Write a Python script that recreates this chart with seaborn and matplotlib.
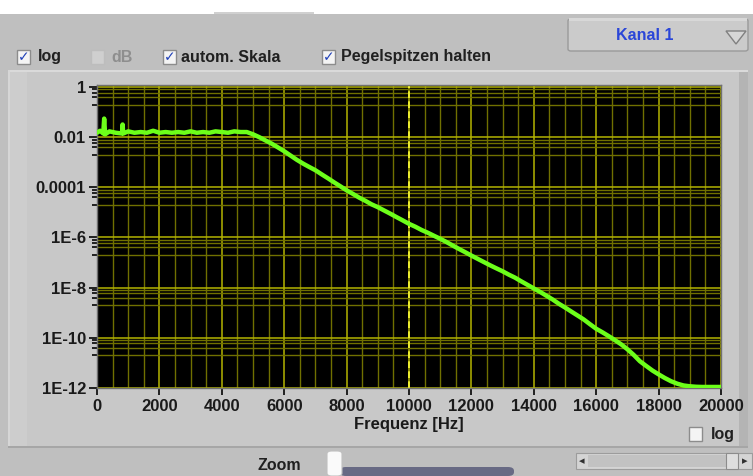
import matplotlib
matplotlib.use("Agg")
import matplotlib.pyplot as plt
import matplotlib.ticker as mticker
from matplotlib.patches import Rectangle, FancyBboxPatch, Polygon
import seaborn as sns
import pandas as pd
from matplotlib import font_manager

# ---------------- data ----------------
freq_hz = [0, 100, 200, 230, 260, 400, 600, 800, 820, 840, 1000, 1200, 1400,
           1600, 1800, 2000, 2200, 2400, 2600, 2800, 3000, 3200, 3400, 3600,
           3800, 4000, 4200, 4400, 4600, 4800,
           5000, 5200, 5400, 5600, 5800, 6000, 6200, 6400, 6600, 6800, 7000,
           7200, 7400, 7600, 7800, 8000, 8200, 8400, 8600, 8800, 9000, 9200,
           9400, 9600, 9800, 10000, 10200, 10400, 10600, 10800, 11000, 11200,
           11400, 11600, 11800, 12000, 12200, 12400, 12600, 12800, 13000,
           13200, 13400, 13600, 13800, 14000, 14200, 14400, 14600, 14800,
           15000, 15200, 15400, 15600, 15800, 16000, 16200, 16400, 16600,
           16800, 17000, 17200, 17400, 17600, 17800, 18000, 18200, 18400,
           18600, 18800, 19000, 19200, 19400, 19600, 19800, 20000]
level = [1.5e-2, 1.8e-2, 1.4e-2, 5.5e-2, 1.3e-2, 1.7e-2, 1.5e-2, 1.4e-2,
         3.2e-2, 1.4e-2, 1.7e-2, 1.5e-2, 1.6e-2, 1.5e-2, 1.8e-2, 1.5e-2,
         1.6e-2, 1.5e-2, 1.6e-2, 1.5e-2, 1.7e-2, 1.5e-2, 1.6e-2, 1.5e-2,
         1.7e-2, 1.6e-2, 1.5e-2, 1.7e-2, 1.6e-2, 1.6e-2,
         1.3e-2, 1.0e-2, 7.4e-3, 5.5e-3, 3.9e-3, 2.75e-3, 1.86e-3, 1.26e-3,
         8.9e-4, 6.5e-4, 4.8e-4, 3.3e-4, 2.3e-4, 1.58e-4, 1.10e-4, 7.6e-5,
         5.5e-5, 3.9e-5, 2.9e-5, 2.1e-5, 1.62e-5, 1.20e-5, 8.9e-6, 6.5e-6,
         4.8e-6, 3.5e-6, 2.7e-6, 2.0e-6, 1.55e-6, 1.17e-6, 8.9e-7, 6.6e-7,
         4.8e-7, 3.5e-7, 2.6e-7, 1.9e-7, 1.41e-7, 1.05e-7, 7.8e-8, 5.9e-8,
         4.5e-8, 3.3e-8, 2.5e-8, 1.78e-8, 1.29e-8, 9.3e-9, 6.8e-9, 4.8e-9,
         3.4e-9, 2.3e-9, 1.62e-9, 1.12e-9, 7.8e-10, 5.4e-10, 3.5e-10,
         2.3e-10, 1.66e-10, 1.17e-10, 8.1e-11, 5.5e-11, 3.5e-11, 2.1e-11,
         1.17e-11, 7.6e-12, 5.0e-12, 3.5e-12, 2.5e-12, 1.86e-12, 1.48e-12,
         1.26e-12, 1.17e-12, 1.12e-12, 1.1e-12, 1.1e-12, 1.1e-12, 1.1e-12]

y_major = [1, 1e-2, 1e-4, 1e-6, 1e-8, 1e-10, 1e-12]
y_labels = ["1", "0.01", "0.0001", "1E-6", "1E-8", "1E-10", "1E-12"]
x_major = [0, 2000, 4000, 6000, 8000, 10000, 12000, 14000, 16000, 18000, 20000]
x_labels = ["0", "2000", "4000", "6000", "8000", "10000", "12000", "14000",
            "16000", "18000", "20000"]
y_minor = [0.8, 0.6, 0.4, 0.2, 8e-3, 6e-3, 4e-3, 2e-3, 8e-5, 6e-5, 4e-5, 2e-5,
           8e-7, 6e-7, 4e-7, 2e-7, 8e-9, 6e-9, 4e-9, 2e-9, 8e-11, 6e-11,
           4e-11, 2e-11]
cursor_x = 10000

# ---------------- styling ----------------
sns.set_theme(style="dark")
names = {f.name for f in font_manager.fontManager.ttflist}
fam = "Liberation Sans" if "Liberation Sans" in names else "DejaVu Sans"
plt.rcParams["font.family"] = [fam, "DejaVu Sans"]
plt.rcParams["font.weight"] = "bold"

W, H = 753, 476
fig = plt.figure(figsize=(W / 100, H / 100), dpi=100)
fig.patch.set_facecolor("#bfbfbf")


def rect(x0, y0, x1, y1, fc, ec="none", lw=0, z=0):
    r = Rectangle((x0 / W, 1 - y1 / H), (x1 - x0) / W, (y1 - y0) / H,
                  transform=fig.transFigure, facecolor=fc, edgecolor=ec,
                  linewidth=lw, zorder=z)
    fig.add_artist(r)


def txt(x, y, s, **kw):
    fig.text(x / W, 1 - y / H, s, **kw)


# top white strip
rect(0, 0, W, 14, "#ffffff")
rect(214, 12, 314, 14, "#d0d0d0")
# graph panel with bevel
rect(8, 70, 748, 448, "#c8c8c8")
rect(8, 70, 748, 72, "#dadada")
rect(8, 70, 10, 448, "#d6d6d6")
rect(739, 72, 748, 448, "#b4b4b4")
rect(8, 446, 748, 448, "#a6a6a6")
rect(10, 72, 27, 446, "#cdcdcd")

# Kanal 1 drop-down
btn = FancyBboxPatch((568 / W, 1 - 51 / H), (180) / W, (32) / H,
                     boxstyle="round,pad=0,rounding_size=0.004",
                     transform=fig.transFigure, facecolor="#cbcbcb",
                     edgecolor="#9a9a9a", linewidth=1, zorder=1)
fig.add_artist(btn)
rect(569, 18, 747, 21, "#d8d8d8", z=2)
txt(645, 35, "Kanal 1", color="#2a46d8", fontsize=11.5, ha="center",
    va="center", fontweight="bold")
tri = Polygon([[726 / W, 1 - 31 / H], [746 / W, 1 - 31 / H],
               [736 / W, 1 - 44 / H]], closed=True, transform=fig.transFigure,
              facecolor="#d6d6d6", edgecolor="#808080", lw=1, zorder=3)
fig.add_artist(tri)


def checkbox(x, y, checked=True, enabled=True):
    rect(x, y - 7, x + 13, y + 7, "#f4f4f4" if enabled else "#cfcfcf",
         ec="#8c8c8c" if enabled else "#bdbdbd", lw=1, z=3)
    if checked:
        txt(x + 6.5, y + 0.5, "\u2713", color="#2040b8", fontsize=10,
            ha="center", va="center", family="DejaVu Sans", zorder=4)


checkbox(17, 57)
txt(38, 57, "log", fontsize=11.5, va="center", color="#202020")
checkbox(91, 57, checked=False, enabled=False)
txt(111, 57, "dB", fontsize=11.5, va="center", color="#8e8e8e")
checkbox(163, 57)
txt(181, 57, "autom. Skala", fontsize=11.5, va="center", color="#202020")
checkbox(322, 57)
txt(341, 57, "Pegelspitzen halten", fontsize=11.5, va="center",
    color="#202020")

# ---------------- plot ----------------
ax = fig.add_axes([97 / W, 1 - 388 / H, (721 - 97) / W, (388 - 85) / H])
ax.set_facecolor("#000000")
df = pd.DataFrame({"Frequenz": freq_hz, "Pegel": level})
ax.set_yscale("log")
ax.set_xlim(0, 20000)
ax.set_ylim(1e-12, 1.2)

ax.xaxis.set_major_locator(mticker.FixedLocator(x_major))
ax.xaxis.set_minor_locator(mticker.MultipleLocator(500))
ax.yaxis.set_major_locator(mticker.FixedLocator(y_major))
ax.yaxis.set_minor_locator(mticker.FixedLocator(y_minor))
ax.set_xticklabels(x_labels)
ax.set_yticklabels(y_labels)
ax.yaxis.set_minor_formatter(mticker.NullFormatter())

ax.grid(True, which="major", color="#b3b300", linewidth=1.1)
ax.grid(True, which="minor", color="#707000", linewidth=1.0)
ax.set_axisbelow(True)
ax.axvline(cursor_x, color="#ffff3a", lw=1.2, ls=(0, (4, 2)), zorder=2)

sns.lineplot(data=df, x="Frequenz", y="Pegel", ax=ax, color="#6cff1a",
             linewidth=3.2, zorder=3)

ax.tick_params(axis="both", which="both", colors="#202020", labelsize=12,
               labelcolor="#1a1a1a", width=1.4)
ax.tick_params(axis="x", which="major", length=5, direction="out", pad=3,
               bottom=True)
ax.tick_params(axis="x", which="minor", length=0)
ax.tick_params(axis="y", which="major", length=6, direction="out", pad=2,
               left=True)
ax.tick_params(axis="y", which="minor", length=3.5, direction="out",
               left=True)
for lab in ax.get_xticklabels() + ax.get_yticklabels():
    lab.set_fontweight("bold")
ax.set_xlabel("Frequenz [Hz]", fontsize=12, fontweight="bold",
              color="#1a1a1a", labelpad=2)
ax.set_ylabel("")
for s in ax.spines.values():
    s.set_color("#707070")
    s.set_linewidth(1)

# bottom-right "log" checkbox
checkbox(689, 434, checked=False)
txt(711, 434, "log", fontsize=11.5, va="center", color="#202020")

# Zoom control
txt(258, 466, "Zoom", fontsize=11.5, va="center", color="#202020")
bar = FancyBboxPatch((340 / W, 0), (174) / W, (9) / H,
                     boxstyle="round,pad=0,rounding_size=0.008",
                     transform=fig.transFigure, facecolor="#686a84",
                     edgecolor="none", zorder=2)
fig.add_artist(bar)
thumb = FancyBboxPatch((327 / W, 0), (15) / W, (25) / H,
                       boxstyle="round,pad=0,rounding_size=0.006",
                       transform=fig.transFigure, facecolor="#fafafa",
                       edgecolor="#c0c0c0", lw=0.8, zorder=3)
fig.add_artist(thumb)

# scrollbar
rect(576, 453, 752, 469, "#d4d4d4", ec="#9c9c9c", lw=0.8, z=2)
rect(588, 455, 726, 467, "#c2c2c2", z=3)
rect(726, 453, 738, 469, "#dedede", ec="#8c8c8c", lw=0.8, z=3)
txt(582, 461, "\u25c2", fontsize=8, ha="center", va="center",
    color="#303030", family="DejaVu Sans")
txt(745, 461, "\u25b8", fontsize=8, ha="center", va="center",
    color="#303030", family="DejaVu Sans")

fig.savefig("out.png", dpi=100, facecolor=fig.get_facecolor())
